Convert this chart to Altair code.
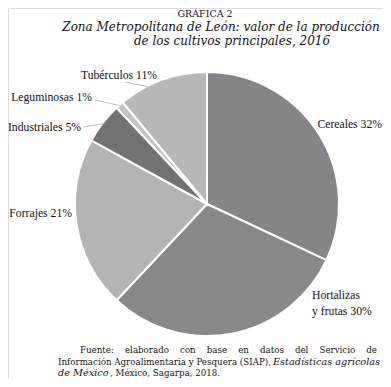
import altair as alt
import pandas as pd
import numpy as np

# ---------------- data ----------------
categories = ["Cereales", "Hortalizas y frutas", "Forrajes", "Industriales", "Leguminosas", "Tubérculos"]
display_names = ["Cereales", "Hortalizas\ny frutas", "Forrajes", "Industriales", "Leguminosas", "Tubérculos"]
values = [32, 30, 21, 5, 1, 11]
colors = ["#858589", "#88888b", "#b4b4b7", "#727274", "#c4c4c6", "#b7b7ba"]

title_1 = "GRÁFICA 2"
title_2 = "Zona Metropolitana de León: valor de la producción"
title_3 = "de los cultivos principales, 2016"
_g = "\u00a0\u00a0\u00a0 "
src_1 = _g.join(["Fuente:", "elaborado", "con", "base", "en", "datos", "del", "Servicio", "de"])
src_2a = "Información Agroalimentaria y Pesquera (SIAP), "
src_2b = "Estadísticas agrícolas"
src_3a = "de México"
src_3b = ", México, Sagarpa, 2018."

# ---------------- layout ----------------
W, H = 375, 371
CX, CY, R = 199, 196, 132
LABEL_FONT = "Liberation Serif"
TEXT_FONT = "DejaVu Serif"

pie_df = pd.DataFrame({"cat": categories, "value": values, "idx": range(len(categories))})
total = float(sum(values))
ends = np.cumsum(values) / total * 2 * np.pi
starts = ends - np.array(values) / total * 2 * np.pi

# label anchors (plot px) and alignment
label_pos = {
    "Cereales": (374, 116, "right"),
    "Hortalizas y frutas": (304, 287, "left"),
    "Forrajes": (64, 205, "right"),
    "Industriales": (73, 119, "right"),
    "Leguminosas": (84, 89, "right"),
    "Tubérculos": (149, 67, "right"),
}
lab_rows = []
for c, n, v in zip(categories, display_names, values):
    x, y, a = label_pos[c]
    lab_rows.append({"cat": c, "text": f"{n} {v}%", "x": x, "y": y, "align": a})
lab_df = pd.DataFrame(lab_rows)

# leader lines: outer end near label, inner end on rim at a fraction of the slice
leaders = {"Tubérculos": ((117, 74), 0.33), "Leguminosas": ((87, 92), 0.5), "Industriales": ((75, 119), 0.5)}
lead_rows = []
for i, c in enumerate(categories):
    if c in leaders:
        (ox, oy), f = leaders[c]
        a = starts[i] + f * (ends[i] - starts[i])
        lead_rows.append({"x": ox, "y": oy,
                          "x2": CX + (R - 1) * np.sin(a), "y2": CY - (R - 1) * np.cos(a)})
lead_df = pd.DataFrame(lead_rows)

color_scale = alt.Scale(domain=categories, range=colors)

pie = alt.Chart(pie_df).mark_arc(stroke="white", strokeWidth=2, radius=R).encode(
    theta=alt.Theta("value:Q", stack=True),
    order=alt.Order("idx:Q"),
    color=alt.Color("cat:N", scale=color_scale, legend=None),
    x=alt.value(CX), y=alt.value(CY),
)

lead = alt.Chart(lead_df).mark_rule(color="#b0b0b0", strokeWidth=0.8).encode(
    x=alt.X("x:Q", scale=None), y=alt.Y("y:Q", scale=None),
    x2="x2:Q", y2="y2:Q",
)

def labels(align):
    return alt.Chart(lab_df[lab_df["align"] == align]).mark_text(
        align=align, baseline="middle", font=LABEL_FONT, fontSize=11.7,
        color="#111111", lineBreak="\n", lineHeight=16,
    ).encode(x=alt.X("x:Q", scale=None), y=alt.Y("y:Q", scale=None), text="text:N")

def note(txt, x, y, size, align="center", style="normal", font=TEXT_FONT):
    return alt.Chart(pd.DataFrame({"t": [txt]})).mark_text(
        align=align, baseline="middle", font=font, fontSize=size, fontStyle=style, color="#111111",
    ).encode(x=alt.value(x), y=alt.value(y), text="t:N")

chart = alt.layer(
    pie, lead, labels("left"), labels("right"),
    note(title_1, 197, 6, 9.5),
    note(title_2, 213, 19, 12, style="italic"),
    note(title_3, 224, 33, 12, style="italic"),
    note(src_1, 72, 342, 8.7, align="left"),
    note(src_2a, 50, 354, 8.7, align="left"),
    note(src_2b, 265, 354, 9.7, align="left", style="italic"),
    note(src_3a, 50, 365, 9.7, align="left", style="italic"),
    note(src_3b, 102, 365, 8.7, align="left"),
).properties(
    width=W, height=H, padding=0, autosize=alt.AutoSizeParams(type="none")
).configure_view(stroke=None).configure(background="white")

chart.save("out.html", embed_options={"renderer": "svg", "actions": False})
